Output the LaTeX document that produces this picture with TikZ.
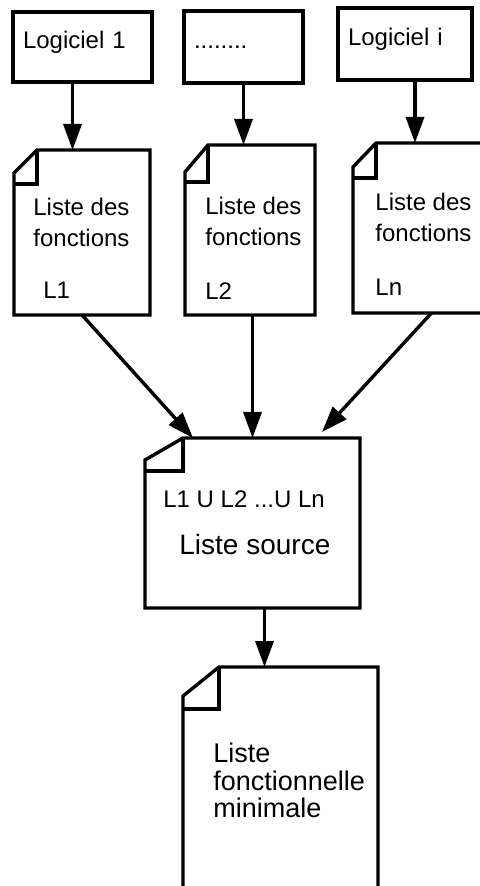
\documentclass[tikz,border=0pt]{standalone}
\usepackage{fontspec}
\setmainfont{Liberation Sans}
\usetikzlibrary{positioning,arrows.meta,calc}

\newcommand\listfont{\fontsize{12}{15.5}\selectfont}
\newcommand\srcfont{\fontsize{14}{16}\selectfont}
\newcommand\minfont{\fontsize{13.5}{13.75}\selectfont}

% outline of a list sheet with a folded corner: node, fold width, cut, fold height
\newcommand\docoutline[4]{%
    \draw[docline] ($(#1.north west)+(#2,0)$) -- (#1.north east) -- (#1.south east)
        -- (#1.south west) -- ($(#1.north west)+(0,#3)$) -- cycle;
    \draw[docline] ($(#1.north west)+(#2,0)$) -- ++(0,#4) -- ($(#1.north west)+(0,#4)$);
}

\tikzset{
    x=0.5pt,
    y=-0.5pt,
    software/.style = {
        draw,
        shape=rectangle,
        line width=1.7pt,
        align=left,
        inner xsep=5pt,
        text height=8pt,
        text depth=6.5pt,
        font=\listfont
    },
    listdoc/.style = {
        shape=rectangle,
        inner sep=0pt,
        outer sep=0pt
    },
    doctext/.style = {
        inner sep=0pt,
        align=left,
        font=\listfont
    },
    docline/.style = {
        line width=1.7pt
    },
    >={Triangle[length=13pt,width=9pt]},
}

\begin{document}
\begin{tikzpicture}
    \useasboundingbox (0,0) rectangle (479,886);

    % software
    \node[software, text width=59.5pt, minimum height=35pt] (log1) at (82.5,47) {Logiciel 1};
    \node[software, text width=49.5pt, minimum height=36pt] (logd) at (243.5,47) {........};
    \node[software, text width=57pt, minimum height=36pt] (logi) at (405,44) {Logiciel i};

    % lists of functions
    \node[listdoc, minimum width=68pt, minimum height=82.5pt] (lst1) at (82,232.5) {};
    \docoutline{lst1}{23}{23}{34}
    \node[doctext, below right=24pt and 9.5pt of lst1.north west] (txt1) {Liste des\\fonctions};
    \node[doctext, below right=66pt and 14.5pt of lst1.north west] (lab1) {L1};

    \node[listdoc, minimum width=65pt, minimum height=85pt] (lst2) at (250,230) {};
    \docoutline{lst2}{23}{27}{37}
    \node[doctext, below right=26pt and 10pt of lst2.north west] (txt2) {Liste des\\fonctions};
    \node[doctext, below right=68.5pt and 10pt of lst2.north west] (lab2) {L2};

    \node[listdoc, minimum width=68.5pt, minimum height=85pt] (lst3) at (421.5,228) {};
    \docoutline{lst3}{23}{24}{35}
    \node[doctext, below right=25pt and 11pt of lst3.north west] (txt3) {Liste des\\fonctions};
    \node[doctext, below right=68pt and 11pt of lst3.north west] (lab3) {Ln};

    % source list
    \node[listdoc, minimum width=107.5pt, minimum height=85pt] (src) at (252.5,523) {};
    \docoutline{src}{38}{22}{33}
    \node[doctext, below right=26pt and 9pt of src.north west] (union) {L1 U L2 ...U Ln};
    \node[doctext, font=\srcfont, below right=48pt and 17pt of src.north west] (srctxt) {Liste source};

    % minimal list
    \node[listdoc, minimum width=97.5pt, minimum height=123pt] (fmin) at (280.5,790) {};
    \docoutline{fmin}{36}{29}{42}
    \node[doctext, font=\minfont, below right=38pt and 15pt of fmin.north west] (mintxt) {Liste\\fonctionnelle\\minimale};

    % arrows
    \draw[->, docline] ([xshift=-5pt]log1.south) -- ([xshift=-5pt]log1.south |- lst1.north);
    \draw[->, docline] (logd.south) -- (logd.south |- lst2.north);
    \draw[->, docline] ([xshift=5pt]logi.south) -- ([xshift=5pt]logi.south |- lst3.north);

    \draw[->, docline] (lst1.south) -- ([xshift=24pt]src.north west);
    \draw[->, docline] (lst2.south -| src.north) -- (src.north);
    \draw[->, docline] ([xshift=5pt]lst3.south) -- ([xshift=-19pt,yshift=3pt]src.north east);
    \draw[->, docline] ([xshift=6pt]src.south) -- ([xshift=6pt]src.south |- fmin.north);
\end{tikzpicture}
\end{document}
